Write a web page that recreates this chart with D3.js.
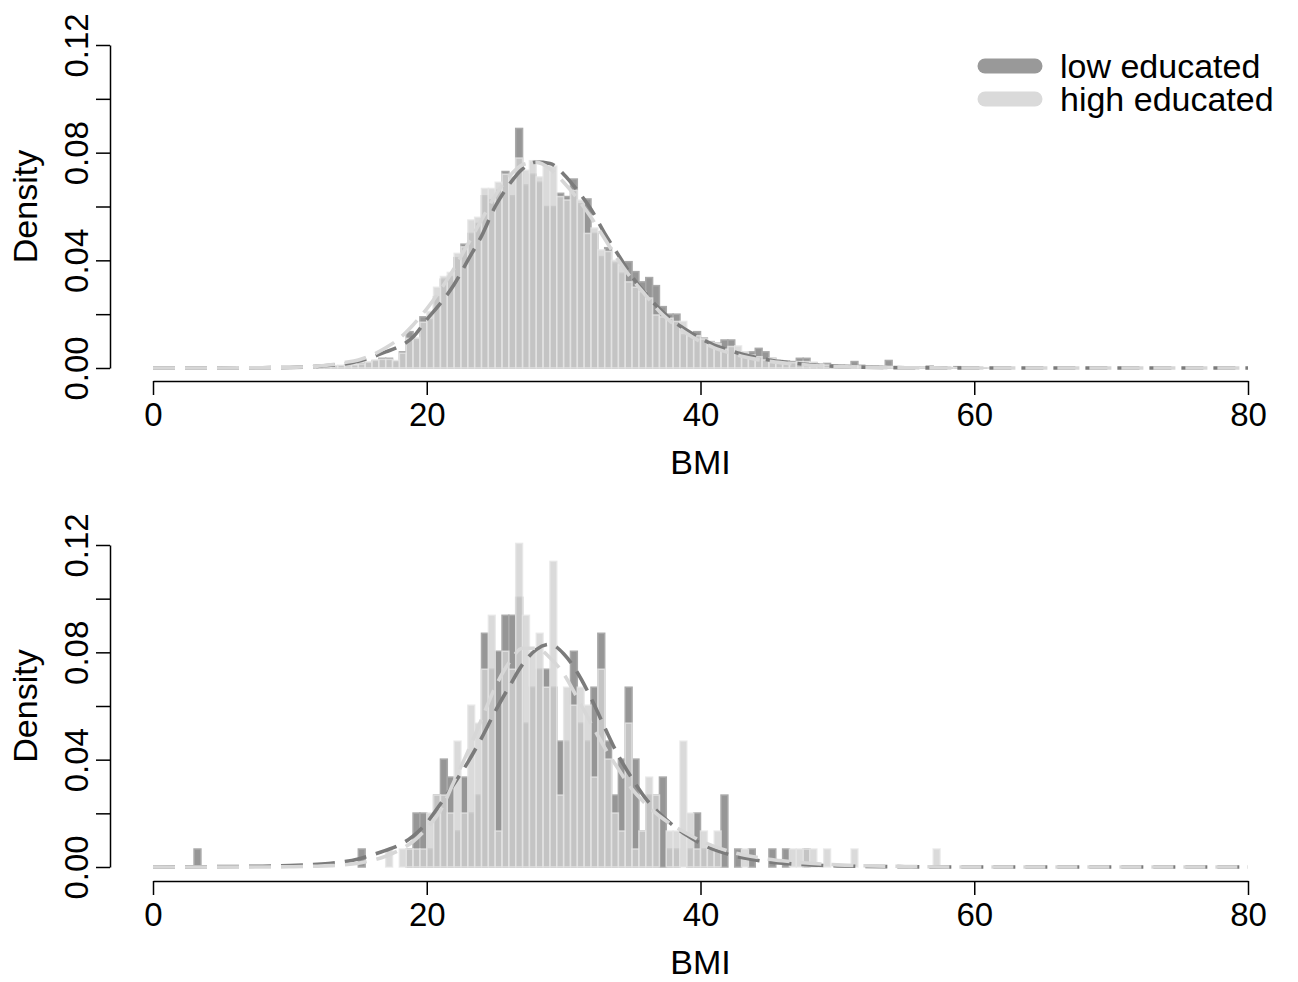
<!DOCTYPE html>
<html>
<head>
<meta charset="utf-8">
<script src="https://cdn.jsdelivr.net/npm/d3@7"></script>
<style>
  body { margin: 0; background: #fff; }
  svg { display: block; font-family: "Liberation Sans", Arial, sans-serif; }
</style>
</head>
<body>
<svg width="1298" height="982"></svg>
<script>
// histogram bins are 0.5 BMI wide, from 0 to 80
var binWidth = 0.5;
var xTicks = [0, 20, 40, 60, 80];
var yTicks = [0, 0.02, 0.04, 0.06, 0.08, 0.10, 0.12];
var yTickLabels = [0, 0.04, 0.08, 0.12];
var legendLabels = ["low educated", "high educated"];

// top panel: densities, first value is the bin starting at BMI 12
var topStart = 12;
var topLow = [
  0.0003,0.0004,0.0006,0.0008,0.0011,0.0010,0.0017,0.0020,0.0026,0.0036,
  0.0036,0.0024,0.0060,0.0135,0.0105,0.0190,0.0180,0.0265,0.0330,0.0340,
  0.0410,0.0460,0.0500,0.0537,0.0640,0.0625,0.0660,0.0730,0.0640,0.0890,
  0.0680,0.0720,0.0690,0.0600,0.0600,0.0649,0.0637,0.0702,0.0610,0.0628,
  0.0500,0.0414,0.0447,0.0390,0.0352,0.0395,0.0358,0.0320,0.0336,0.0306,
  0.0228,0.0200,0.0200,0.0123,0.0125,0.0135,0.0111,0.0098,0.0092,0.0104,
  0.0104,0.0060,0.0058,0.0060,0.0073,0.0060,0.0036,0.0025,0.0026,0.0024,
  0.0036,0.0036,0.0020,0.0015,0.0017,0.0012,0.0010,0.0010,0.0024,0.0010,
  0.0007,0.0007,0.0006,0.0028,0.0004,0.0004,0.0003,0.0004,0.0003,0.0007,
  0.0002,0.0002,0.0001,0.0005,0.0002,0.0001,0.0001,0.0001,0,0.0001
];
var topHigh = [
  0.0004,0.0005,0.0009,0.0010,0.0008,0.0012,0.0015,0.0022,0.0030,0.0032,
  0.0032,0.0028,0.0055,0.0110,0.0112,0.0170,0.0210,0.0300,0.0340,0.0355,
  0.0426,0.0450,0.0550,0.0560,0.0667,0.0667,0.0690,0.0720,0.0710,0.0780,
  0.0735,0.0770,0.0710,0.0748,0.0750,0.0637,0.0624,0.0660,0.0624,0.0500,
  0.0520,0.0439,0.0433,0.0400,0.0383,0.0320,0.0300,0.0284,0.0260,0.0197,
  0.0190,0.0185,0.0173,0.0173,0.0120,0.0120,0.0108,0.0096,0.0090,0.0070,
  0.0080,0.0082,0.0060,0.0048,0.0042,0.0030,0.0036,0.0030,0.0017,0.0020,
  0.0024,0.0024,0.0020,0.0014,0.0011,0.0010,0.0008,0.0009,0.0008,0.0007,
  0.0006,0.0005,0.0005,0.0006,0.0004,0.0003,0.0004,0.0003,0.0003,0.0002,
  0.0002,0.0001,0.0002,0.0001,0.0001,0.0001,0,0.0001,0.0001,0
];

// bottom panel: counts per bin, starting at BMI 0; one count = 0.0067 density
var bottomStart = 0;
var densityPerCount = 0.0067;
var bottomLowCounts = [
  0,0,0,0,0,0,1,0,0,0,
  0,0,0,0,0,0,0,0,0,0,
  0,0,0,0,0,0,0,0,0,0,
  1,0,0,0,0,0,0,1,3,3,
  1,4,6,5,2,5,3,4,13,11,
  12,14,14,15,8,10,11,11,10,7,
  7,12,8,7,10,13,7,4,6,10,
  6,2,4,4,5,1,1,0,1,3,
  1,1,1,4,0,1,0,1,0,0,
  1,0,1,0,0,1,0,0,0,0,
  0,0,0,0,0,0,0,0,0,0,
  0,0,0,0,0,0
];
var bottomHighCounts = [
  0,0,0,0,0,0,0,0,0,0,
  0,0,0,0,0,0,0,0,0,0,
  0,0,0,0,0,0,0,0,0,0,
  0,0,0,0,1,0,1,1,1,1,
  3,4,4,3,7,3,9,8,11,14,
  2,12,11,18,14,12,13,10,17,4,
  10,9,10,9,5,11,6,3,2,8,
  1,2,5,4,0,2,2,7,3,1,
  2,1,2,0,0,0,1,0,0,0,
  0,0,0,1,1,1,1,0,1,0,
  0,0,1,0,0,0,0,0,0,0,
  0,0,0,0,1,0
];

var curveBMI = [0,4,8,10,12,13,14,15,16,17,18,19,20,21,22,23,24,25,26,27,28,29,30,
  31,32,33,34,35,36,37,38,39,40,41,42,43,44,45,46,48,50,55,60,70,80];
var topLowCurve = [0,0,0.0001,0.0002,0.0006,0.001,0.0015,0.0025,0.004,0.006,0.008,0.0115,
  0.018,0.024,0.031,0.040,0.049,0.060,0.068,0.074,0.0765,0.076,0.072,0.066,0.059,0.050,
  0.042,0.034,0.0275,0.022,0.0175,0.014,0.011,0.0085,0.0068,0.0052,0.004,0.003,0.0023,
  0.0012,0.0006,0.0001,0,0,0];
var topHighCurve = [0,0,0.0001,0.0002,0.0007,0.0012,0.002,0.003,0.0048,0.0075,0.011,0.016,
  0.022,0.029,0.037,0.046,0.055,0.064,0.071,0.0755,0.0765,0.074,0.069,0.063,0.056,0.048,
  0.040,0.033,0.027,0.021,0.0165,0.0128,0.0098,0.0075,0.0058,0.0044,0.0033,0.0025,0.0019,
  0.001,0.0005,0.0001,0,0,0];
var bottomLowCurve = [0,0.0001,0.0003,0.0005,0.001,0.0014,0.002,0.003,0.0045,0.0062,0.0082,
  0.0115,0.0165,0.0235,0.031,0.039,0.048,0.058,0.067,0.0755,0.081,0.083,0.0795,0.0725,
  0.063,0.052,0.0415,0.033,0.0255,0.020,0.0155,0.0118,0.0088,0.0065,0.0048,0.0035,0.0026,
  0.0019,0.0014,0.0008,0.0004,0.0001,0,0,0];
var bottomHighCurve = [0,0,0,0.0001,0.0003,0.0005,0.0008,0.0014,0.0025,0.004,0.0063,0.0095,
  0.0145,0.021,0.032,0.043,0.055,0.067,0.076,0.0815,0.0815,0.078,0.072,0.063,0.0535,0.0445,
  0.0365,0.029,0.0235,0.019,0.0155,0.0125,0.0098,0.0077,0.006,0.0047,0.0037,0.0029,0.0023,
  0.0014,0.0008,0.0002,0,0,0];

var lowFill = "#969696", lowEdge = "#a9a9a9";
var highFill = "rgba(208,208,208,0.79)", highEdge = "rgba(230,230,230,0.79)";
var lowLine = "#7b7b7b", highLine = "#d7d7d7";

var svg = d3.select("svg");
svg.append("rect").attr("width",1298).attr("height",982).attr("fill","#fff");

var x = d3.scaleLinear().domain([0,80]).range([153,1248]);

function makeBins(values, start, factor){
  var bins = [];
  for (var k = 0; k < 80/binWidth; k++){
    var i = Math.round((k*binWidth - start)/binWidth);
    var v = (i >= 0 && i < values.length) ? values[i]*factor : 0;
    bins.push({x0: k*binWidth, v: v});
  }
  return bins;
}

function panel(opt){
  var y = d3.scaleLinear().domain([0,0.12]).range([opt.y0, opt.y1]);
  var g = svg.append("g");

  g.selectAll("rect.low")
    .data(opt.low)
    .enter()
    .append("rect").attr("class","low")
    .attr("x",function(d){return x(d.x0);})
    .attr("y",function(d){return y(d.v);})
    .attr("width",function(d){return x(d.x0+binWidth)-x(d.x0);})
    .attr("height",function(d){return y(0)-y(d.v);})
    .attr("fill",lowFill)
    .attr("stroke",lowEdge)
    .attr("stroke-width",1.5);

  g.selectAll("rect.high")
    .data(opt.high)
    .enter()
    .append("rect").attr("class","high")
    .attr("x",function(d){return x(d.x0);})
    .attr("y",function(d){return y(d.v);})
    .attr("width",function(d){return x(d.x0+binWidth)-x(d.x0);})
    .attr("height",function(d){return y(0)-y(d.v);})
    .attr("fill",highFill)
    .attr("stroke",highEdge)
    .attr("stroke-width",1.5);

  var line = d3.line()
    .x(function(d,i){return x(curveBMI[i]);})
    .y(function(d){return y(d);})
    .curve(d3.curveMonotoneX);

  g.append("path").datum(opt.lowCurve)
    .attr("d",line)
    .attr("fill","none")
    .attr("stroke",lowLine)
    .attr("stroke-width",3.6)
    .attr("stroke-dasharray","22,10");

  g.append("path").datum(opt.highCurve)
    .attr("d",line)
    .attr("fill","none")
    .attr("stroke",highLine)
    .attr("stroke-width",3.6)
    .attr("stroke-dasharray","22,10");

  // y axis
  var ya = g.append("g")
    .attr("transform","translate(110,0)")
    .call(d3.axisLeft(y).tickValues(yTicks).tickSize(14).tickSizeOuter(0)
      .tickFormat(function(d){
        return yTickLabels.some(function(t){return Math.abs(t-d)<1e-9;}) ? d3.format(".2f")(d) : "";
      }));
  ya.selectAll("text")
    .attr("transform","rotate(-90)")
    .attr("x",0).attr("y",-22).attr("dy",0)
    .attr("text-anchor","middle")
    .attr("font-size",33)
    .attr("font-family","Liberation Sans, Arial, sans-serif")
    .attr("fill","#000");

  // x axis
  var xa = g.append("g")
    .attr("transform","translate(0,"+opt.axisY+")")
    .call(d3.axisBottom(x).tickValues(xTicks).tickSize(14).tickSizeOuter(0).tickPadding(8));
  xa.selectAll("text")
    .attr("font-size",33)
    .attr("font-family","Liberation Sans, Arial, sans-serif")
    .attr("fill","#000");

  [ya, xa].forEach(function(a){
    a.selectAll("path,line").attr("stroke","#000").attr("stroke-width",1.5);
  });

  g.append("text")
    .attr("x",x(40)).attr("y",opt.axisY+93)
    .attr("text-anchor","middle")
    .attr("font-size",34)
    .text("BMI");

  g.append("text")
    .attr("transform","translate(37,"+((opt.y0+opt.y1)/2)+") rotate(-90)")
    .attr("text-anchor","middle")
    .attr("font-size",34)
    .text("Density");
}

panel({
  y0: 368, y1: 45, axisY: 381,
  low: makeBins(topLow, topStart, 1),
  high: makeBins(topHigh, topStart, 1),
  lowCurve: topLowCurve, highCurve: topHighCurve
});

panel({
  y0: 867, y1: 545, axisY: 881,
  low: makeBins(bottomLowCounts, bottomStart, densityPerCount),
  high: makeBins(bottomHighCounts, bottomStart, densityPerCount),
  lowCurve: bottomLowCurve, highCurve: bottomHighCurve
});

// legend
var legend = svg.append("g");
legend.selectAll("line")
  .data(legendLabels)
  .enter()
  .append("line")
  .attr("x1",985).attr("x2",1035)
  .attr("y1",function(d,i){return 66+i*33;})
  .attr("y2",function(d,i){return 66+i*33;})
  .attr("stroke",function(d,i){return i==0 ? "#999999" : "#dadada";})
  .attr("stroke-width",15)
  .attr("stroke-linecap","round");
legend.selectAll("text")
  .data(legendLabels)
  .enter()
  .append("text")
  .attr("x",1060)
  .attr("y",function(d,i){return 78+i*33;})
  .attr("font-size",34)
  .text(function(d){return d;});
</script>
</body>
</html>
